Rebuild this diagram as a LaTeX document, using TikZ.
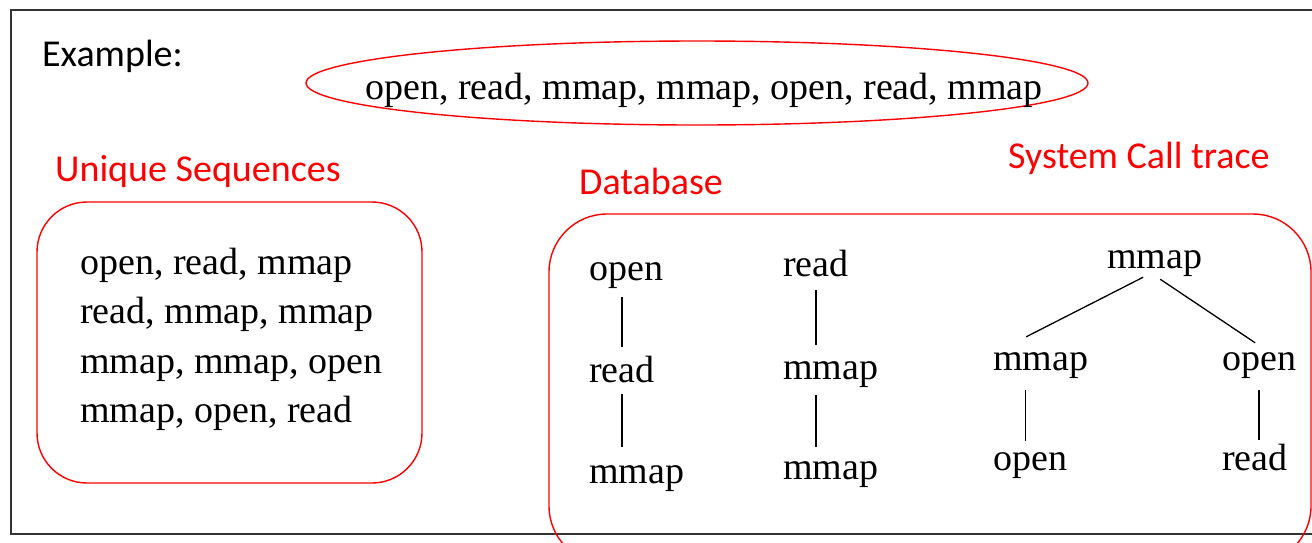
\documentclass[tikz,border=0pt]{standalone}
\usepackage{fontspec}
\setmainfont{Liberation Serif}
\newfontfamily\calfont{Carlito}
\usetikzlibrary{calc,shapes.geometric}
\begin{document}
\begin{tikzpicture}[x=1pt,y=-1pt,
  frame/.style={draw=black!80,line width=2pt},
  redline/.style={draw=red,line width=1.4pt},
  heading/.style={font=\calfont\fontsize{38}{45}\selectfont,inner sep=0pt,anchor=base west},
  word/.style={font=\fontsize{38}{46}\selectfont,inner sep=0pt,anchor=base west,
               text height=27pt,text depth=8pt},
  edge/.style={draw=black,line width=1.3pt}]
\useasboundingbox (0,0) rectangle (1312,542);
\clip (0,0) rectangle (1312,542);

% outer frame
\draw[frame] (11,10) rectangle (1330,534);

% headings
\node[heading] (ex) at (42,66) {Example:};
\node[heading,text=red] (uhead) at (55,181) {Unique Sequences};
\node[heading,text=red] (dhead) at (579,194) {Database};
\node[heading,text=red] (shead) at (1008,168) {System Call trace};

% the traced call sequence
\node[ellipse,redline,minimum width=782pt,minimum height=84pt] (ell) at (697,83) {};
\node[word,anchor=base] (trace) at (704,99) {open, read, mmap, mmap, open, read, mmap};

% unique sequences box
\node[redline,rectangle,rounded corners=50pt,minimum width=385pt,minimum height=281pt] (ubox) at (229.5,342.5) {};
\node[word] (u1) at (80,274) {open, read, mmap};
\node[word] (u2) at (80,323.5) {read, mmap, mmap};
\node[word] (u3) at (80,373) {mmap, mmap, open};
\node[word] (u4) at (80,422.5) {mmap, open, read};

% database box
\node[redline,rectangle,rounded corners=58pt,minimum width=762pt,minimum height=350pt] (dbox) at (930,389) {};

% first chain
\node[word] (a1) at (589,280) {open};
\node[word] (a2) at (589,382) {read};
\node[word] (a3) at (589,483) {mmap};
\draw[edge,shorten <=9pt,shorten >=8pt] (a1.south -| a2.north) -- (a2.north);
\draw[edge,shorten <=4pt,shorten >=9pt] (a2.south) -- (a2.south |- a3.north);

% second chain
\node[word] (b1) at (783,276) {read};
\node[word] (b2) at (783,379) {mmap};
\node[word] (b3) at (783,479) {mmap};
\draw[edge,shorten <=6pt,shorten >=7pt] (b1.south) -- (b1.south |- b2.north);
\draw[edge,shorten <=8pt,shorten >=5pt] (b1.south |- b2.south) -- (b1.south |- b3.north);

% tree
\node[word] (t0) at (1107,268) {mmap};
\node[word] (t1) at (993,370) {mmap};
\node[word] (t2) at (1222,370) {open};
\node[word] (t3) at (993,470) {open};
\node[word] (t4) at (1222,470) {read};
\draw[edge] ([xshift=-11.5pt,yshift=-1pt]t0.south) -- ([xshift=-14.5pt,yshift=6pt]t1.north);
\draw[edge] ([xshift=5.5pt,yshift=-3pt]t0.south) -- ([xshift=-4pt]t2.north);
\draw[edge,shorten <=12pt,shorten >=2pt] ([xshift=-15pt]t1.south) -- ([xshift=-15pt]t1.south |- t3.north);
\draw[edge,shorten <=12pt,shorten >=3pt] (t2.south) -- (t2.south |- t4.north);
\end{tikzpicture}
\end{document}
